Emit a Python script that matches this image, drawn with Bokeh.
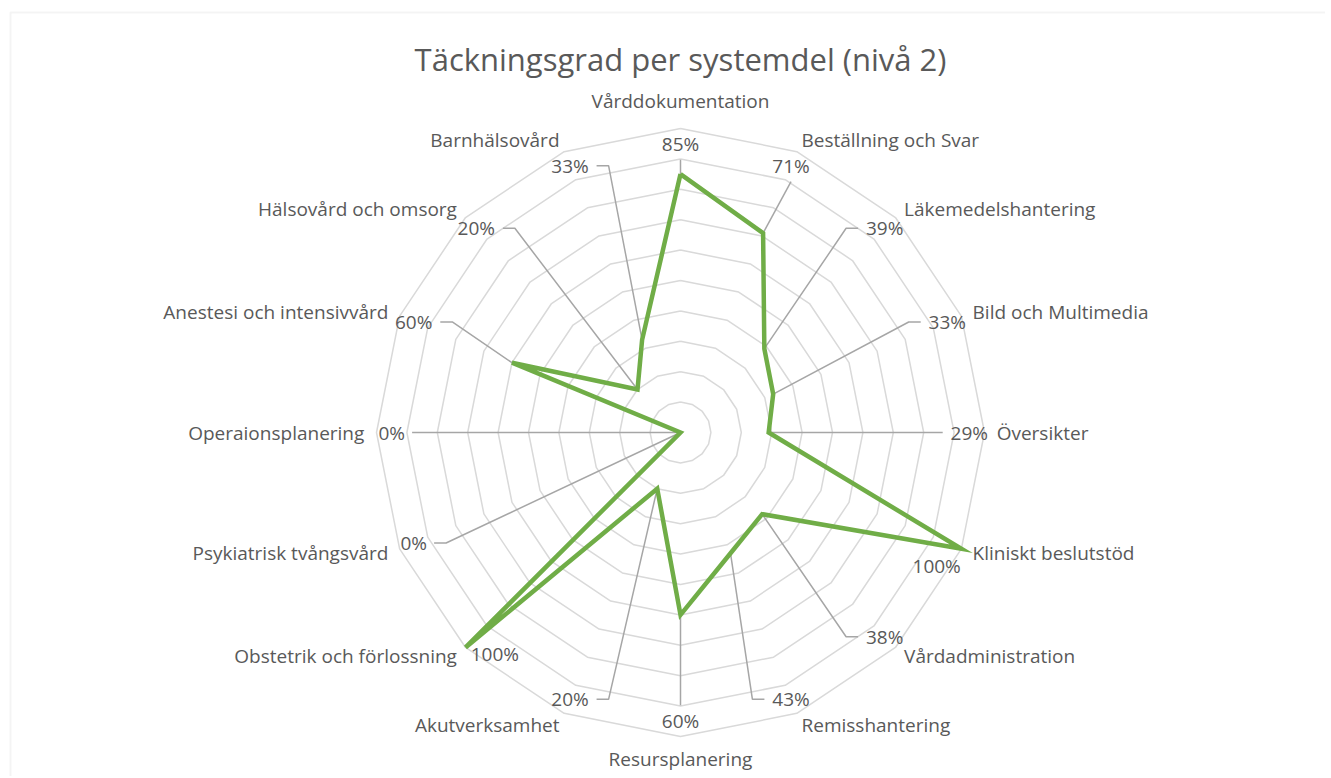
import numpy as np
from bokeh.plotting import figure
from bokeh.models import Range1d, BoxAnnotation, ColumnDataSource
from bokeh.core.properties import value
from bokeh.embed import file_html
from bokeh.resources import INLINE

# ---------------- data ----------------
title_text = "Täckningsgrad per systemdel (nivå 2)"
categories = [
    "Vårddokumentation", "Beställning och Svar", "Läkemedelshantering",
    "Bild och Multimedia", "Översikter", "Kliniskt beslutstöd",
    "Vårdadministration", "Remisshantering", "Resursplanering",
    "Akutverksamhet", "Obstetrik och förlossning", "Psykiatrisk tvångsvård",
    "Operaionsplanering", "Anestesi och intensivvård", "Hälsovård och omsorg",
    "Barnhälsovård",
]
coverage_pct = [85, 71, 39, 33, 29, 100, 38, 43, 60, 20, 100, 0, 0, 60, 20, 33]
ring_levels = [10, 20, 30, 40, 50, 60, 70, 80, 90, 100]

# ---------------- layout / style ----------------
W, H = 1325, 776
OX, OY = 0, 0           # page position of the figure's top-left corner
CX, CY = 680, 432       # centre of the radar in page pixels
S = 304.0               # pixels per 100 %
label_nudge_deg = [0, 0, 0, 0, 0, 5, 0, 0, 0, 0, -5, 0, 0, 0, 0, 0]
TEXT_COLOR = "#595959"
GRID_COLOR = "#d9d9d9"
LEADER_COLOR = "#a6a6a6"
SERIES_COLOR = "#70ad47"
FONT = "Open Sans"
FS = 19
CHAR_W = 6.2            # approx. px per character of a percent label


def px_x(px):
    return (px - CX) / S


def px_y(py):
    return (CY - py) / S


p = figure(
    width=W, height=H, output_backend="svg", toolbar_location=None,
    x_range=Range1d(px_x(OX), px_x(OX + W)), y_range=Range1d(px_y(OY + H), px_y(OY)),
    min_border=0, outline_line_color=None, background_fill_color="white",
    border_fill_color="white",
)
p.axis.visible = False
p.grid.visible = False

# chart border
p.add_layout(BoxAnnotation(left=px_x(10), top=px_y(12), right=px_x(OX + W + 20),
                           bottom=px_y(OY + H + 20), fill_alpha=0,
                           line_color="#d9d9d9", line_width=2))

n = len(categories)
theta = np.arange(n) * 2 * np.pi / n
sx, sy = np.sin(theta), np.cos(theta)

# rings
ring_xs, ring_ys = [], []
for lv in ring_levels:
    r = lv / 100.0
    ring_xs.append(list(np.append(r * sx, r * sx[0])))
    ring_ys.append(list(np.append(r * sy, r * sy[0])))
p.multi_line(ring_xs, ring_ys, line_color=GRID_COLOR, line_width=1.5)

# data points
vals = np.array(coverage_pct) / 100.0
pxs, pys = vals * sx, vals * sy

# leader lines + percent labels
lab_r = 0.95
lab_th = theta + np.radians(label_nudge_deg)
lx, ly = lab_r * np.sin(lab_th), lab_r * np.cos(lab_th)
pct_text = [f"{v}%" for v in coverage_pct]
lead_xs, lead_ys = [], []
for i in range(n):
    halfw = CHAR_W * len(pct_text[i]) / S
    dx, dy = lx[i] - pxs[i], ly[i] - pys[i]
    if abs(dx) > 45 / S:
        side = np.sign(dx)
        end = (lx[i] - side * (halfw + 8 / S), ly[i])
        elbow = (lx[i] - side * (halfw + 20 / S), ly[i])
        lead_xs.append([pxs[i], elbow[0], end[0]])
        lead_ys.append([pys[i], elbow[1], end[1]])
    else:
        gap = abs(dy) - 10 / S
        if gap > 12 / S:
            end = (lx[i], ly[i] - np.sign(dy) * 16 / S)
            lead_xs.append([pxs[i], end[0]])
            lead_ys.append([pys[i], end[1]])
p.multi_line(lead_xs, lead_ys, line_color=LEADER_COLOR, line_width=1.5)

# series line (closed)
p.line(list(np.append(pxs, pxs[0])), list(np.append(pys, pys[0])),
       line_color=SERIES_COLOR, line_width=4.5, line_join="miter")

p.text(x=list(lx), y=list(ly), text=pct_text, text_font=value(FONT),
       text_font_size=f"{FS}px", text_color=TEXT_COLOR, text_align="center",
       text_baseline="middle")

# category labels
cat_r = np.where(np.abs(sx) > 0.1, 1.04, np.where(sy > 0, 1.09, 1.075))
align = ["left" if s > 0.1 else ("right" if s < -0.1 else "center") for s in sx]
src = ColumnDataSource(dict(x=cat_r * sx, y=cat_r * sy, t=categories, a=align))
p.text(x="x", y="y", text="t", text_align="a", source=src, text_font=value(FONT),
       text_font_size=f"{FS}px", text_color=TEXT_COLOR, text_baseline="middle")

# title
p.text(x=[0], y=[px_y(58)], text=[title_text], text_font=value(FONT),
       text_font_size="31px", text_color=TEXT_COLOR, text_align="center",
       text_baseline="middle")

open("out.html", "w").write(file_html(p, INLINE))
